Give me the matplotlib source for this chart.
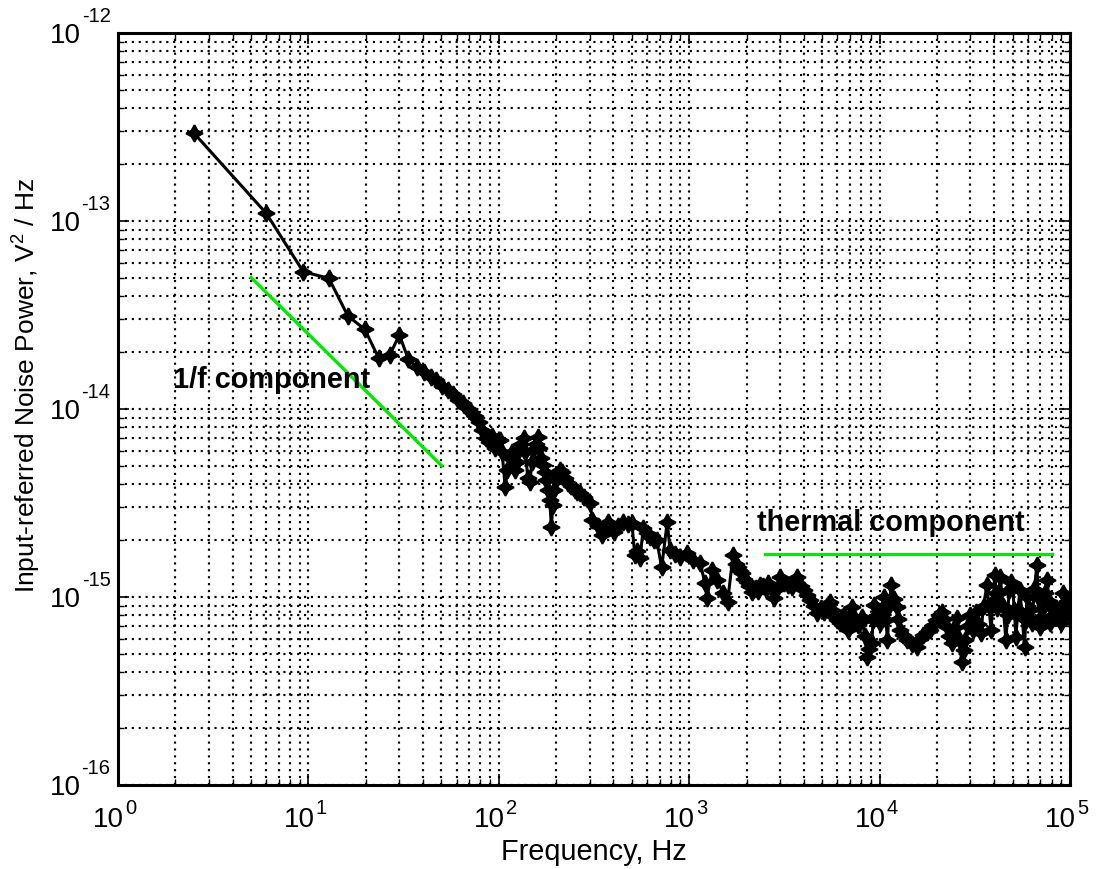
import matplotlib
matplotlib.use("Agg")
import matplotlib.pyplot as plt
import matplotlib.transforms as mtransforms
import numpy as np

plt.rcParams['font.family'] = ['Liberation Sans', 'DejaVu Sans']
plt.rcParams['mathtext.fontset'] = 'custom'
plt.rcParams['mathtext.rm'] = 'Liberation Sans'
plt.rcParams['mathtext.it'] = 'Liberation Sans:italic'
plt.rcParams['mathtext.bf'] = 'Liberation Sans:bold'

# Measured input-referred noise spectrum (frequency in Hz, PSD in 1e-15 V^2/Hz)
freq_hz = [
    2.5, 6.0, 9.4, 12.8, 16.1, 19.8, 23.4, 26.8, 30.0, 33.5,
    37, 40.5, 44, 47, 50.5, 54, 57.5, 61, 64.5, 68,
    71.5, 75, 78.5, 82, 85.5, 89, 92.5, 96, 99.5,
    101, 104, 108, 111, 114, 118, 121, 125, 128, 131,
    135, 138, 142, 146, 149, 152, 156, 160, 163, 167,
    171, 174, 178, 181, 185, 189, 192, 196, 199, 203,
    210, 215, 222, 230, 240, 250, 258,
    267, 280, 301, 310, 330, 350, 362, 374, 390, 403,
    425, 449, 475, 500, 518, 535, 552, 574, 600, 623,
    650, 674, 717, 767, 793, 840, 895, 975, 1050, 1140,
    1210, 1240, 1320, 1400, 1510, 1590,
    1700, 1760, 1800, 1850, 1900, 1950, 2000, 2070, 2140, 2200,
    2250, 2300, 2350, 2450, 2520, 2600, 2700, 2800, 2900, 3000,
    3150, 3300, 3450, 3550, 3700, 3850, 4000, 4150, 4310, 4500,
    4700, 4900, 5100, 5300, 5490, 5650, 5800, 6000, 6190, 6350,
    6500, 6650, 6800, 7000, 7200, 7450, 7700, 7900, 8100, 8350,
    8600, 8850, 9100, 9250, 9400, 9700, 10000, 10300, 10600, 10800,
    11000, 11250, 11500, 11900, 12300, 12550, 12800, 13300, 13900, 14800,
    15700, 16300, 17000, 17700, 18400, 19100, 19900, 20500, 21200, 21800,
    22500, 23200, 23900, 24600, 25400, 26200, 27000, 27600, 28200, 29000,
    29800, 30400, 31000, 31500, 32000, 33000, 34000, 35200, 36600, 37500,
    38500, 39400, 40300, 40900, 41500, 42200, 43000, 44500, 46100, 47000,
    48000, 49000, 50000, 51000, 52000, 53300, 54600, 56000, 57700, 58600,
    59500, 61300, 63200, 65000, 67000, 68200, 69500, 70700, 72000, 74000,
    76000, 77500, 79000, 81500, 84000, 87000, 90000, 91000, 92000, 93500,
    95000, 97000,
]
psd_e15 = [
    294, 110, 53.7, 49.6, 31.3, 26.5, 18.6, 19.4, 24.8, 18.4,
    16.7, 15.7, 14.8, 14.3, 13.3, 12.6, 12.0, 11.2, 10.8, 10.1,
    9.64, 9.18, 8.53, 7.73, 7.01, 6.67, 7.18, 6.2, 6.76,
    6.84, 5.91, 3.85, 4.74, 5.49, 5.91, 4.74, 5.23, 6.05, 6.5,
    7.01, 5.91, 4.30, 4.09, 5.23, 6.05, 6.5, 7.09, 6.2, 5.49,
    5.03, 4.62, 4.19, 3.71, 3.28, 2.36, 3.09, 3.71, 4.19, 4.45,
    4.74, 4.62, 4.30, 4.04, 3.89, 3.71, 3.62,
    3.57, 3.4, 3.16, 2.57, 2.4, 2.14, 2.3, 2.51, 2.35, 2.22,
    2.4, 2.51, 2.45, 2.47, 1.67, 1.75, 1.61, 2.33, 2.2, 2.08,
    2.0, 2.01, 1.44, 2.51, 1.78, 1.7, 1.63, 1.71, 1.57, 1.52,
    1.19, 0.988, 1.39, 1.23, 1.05, 0.94,
    1.67, 1.5, 1.45, 1.38, 1.34, 1.25, 1.2, 1.15, 1.06, 1.1,
    1.12, 1.08, 1.16, 1.14, 1.1, 1.19, 1.12, 0.99, 1.1, 1.28,
    1.18, 1.16, 1.13, 1.2, 1.28, 1.15, 1.09, 1.02, 0.964, 0.9,
    0.822, 0.87, 0.832, 0.9, 0.94, 0.85, 0.783, 0.75, 0.727, 0.78,
    0.802, 0.72, 0.668, 0.79, 0.885, 0.76, 0.71, 0.74, 0.783, 0.62,
    0.48, 0.53, 0.569, 0.75, 0.906, 0.8, 0.727, 0.86, 1.0, 0.75,
    0.59, 0.9, 1.16, 0.98, 0.885, 0.76, 0.668, 0.63, 0.59, 0.56,
    0.542, 0.6, 0.628, 0.65, 0.668, 0.71, 0.755, 0.8, 0.832, 0.76,
    0.693, 0.62, 0.569, 0.68, 0.773, 0.6, 0.451, 0.52, 0.59, 0.7,
    0.802, 0.72, 0.668, 0.75, 0.832, 0.72, 0.644, 0.9, 1.16, 0.9,
    0.668, 0.95, 1.31, 1.05, 0.874, 1.05, 1.28, 0.9, 0.59, 0.8,
    1.09, 1.2, 1.13, 0.85, 0.613, 0.85, 1.09, 0.8, 0.542, 0.75,
    1.0, 0.85, 0.727, 1.1, 1.48, 1.0, 0.693, 0.78, 0.874, 1.05,
    1.23, 0.95, 0.727, 0.8, 0.874, 0.8, 0.727, 0.9, 1.05, 0.9,
    0.80, 0.95,
]

# Reference slopes: 1/f asymptote and flat thermal floor
flicker_f = [5, 50]
flicker_psd = [5e-14, 5e-15]
thermal_f = [2500, 80000]
thermal_psd = [1.7e-15, 1.7e-15]

x_exponents = [0, 1, 2, 3, 4, 5]
y_exponents = [-16, -15, -14, -13, -12]

f = np.array(freq_hz)
psd = np.array(psd_e15) * 1e-15

fig = plt.figure(figsize=(11, 8.69), dpi=100)
ax = fig.add_axes([0.1073, 0.0967, 0.8654, 0.8653])

ax.set_xscale('log')
ax.set_yscale('log')
ax.set_xlim(1e0, 1e5)
ax.set_ylim(1e-16, 1e-12)
ax.set_xticks([10.0 ** e for e in x_exponents])
ax.set_yticks([10.0 ** e for e in y_exponents])
ax.set_xticklabels([])
ax.set_yticklabels([])

grid_style = dict(color='black', linestyle=(0, (1, 2.2)), linewidth=1.55)
ax.grid(True, which='major', **grid_style)
ax.grid(True, which='minor', **grid_style)
ax.set_axisbelow(True)

ax.plot(f, psd, color='black', linewidth=2.2, marker=(4, 1, 0),
        markersize=12, markerfacecolor='black', markeredgecolor='black',
        markeredgewidth=1.4, zorder=3)

ax.plot(flicker_f, flicker_psd, color='#00e800', linewidth=2.4, zorder=4)
ax.plot(thermal_f, thermal_psd, color='#00e800', linewidth=2.4, zorder=4)

ax.text(1.95, 1.43e-14, '1/f component', fontsize=20.8, fontweight='bold',
        va='center', ha='left', zorder=5)
ax.text(2270, 2.47e-15, 'thermal component', fontsize=20.8, fontweight='bold',
        va='center', ha='left', zorder=5)

ax.tick_params(axis='both', which='both', direction='in', top=True, right=True)
ax.tick_params(axis='both', which='major', length=8, width=1.2)
ax.tick_params(axis='both', which='minor', length=4, width=1.0)

for s in ax.spines.values():
    s.set_linewidth(2.2)

# Tick labels drawn as base "10" plus a raised exponent
PX = 0.72  # points per pixel at 100 dpi
base_fs = 20
exp_fs = 14.5
xtrans = ax.get_xaxis_transform()
ytrans = ax.get_yaxis_transform()
for e in x_exponents:
    xv = 10.0 ** e
    t_base = mtransforms.offset_copy(xtrans, fig=fig, x=6 * PX, y=-42 * PX, units='points')
    t_exp = mtransforms.offset_copy(xtrans, fig=fig, x=7 * PX, y=-29 * PX, units='points')
    ax.text(xv, 0, '10', transform=t_base, ha='right', va='baseline',
            fontsize=base_fs, clip_on=False)
    ax.text(xv, 0, str(e), transform=t_exp, ha='left', va='baseline',
            fontsize=exp_fs, clip_on=False)
for e in y_exponents:
    yv = 10.0 ** e
    t_base = mtransforms.offset_copy(ytrans, fig=fig, x=-37 * PX, y=-10 * PX, units='points')
    t_exp = mtransforms.offset_copy(ytrans, fig=fig, x=-7.5 * PX, y=11 * PX, units='points')
    ax.text(0, yv, '10', transform=t_base, ha='right', va='baseline',
            fontsize=base_fs, clip_on=False)
    ax.text(0, yv, str(e), transform=t_exp, ha='right', va='baseline',
            fontsize=exp_fs, clip_on=False)

ax.set_xlabel('Frequency, Hz', fontsize=20.8, va='top')
ax.xaxis.set_label_coords(0.5, -0.071)
ax.set_ylabel('Input-referred Noise Power, V$^2$ / Hz', fontsize=19)
ax.yaxis.set_label_coords(-0.0788, 0.5306)

fig.savefig('out.png', dpi=100)
